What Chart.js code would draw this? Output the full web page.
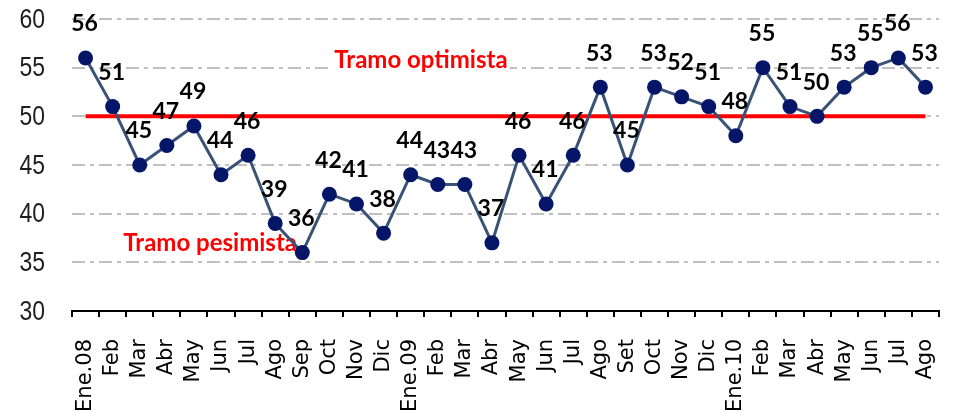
<!DOCTYPE html>
<html>
<head>
<meta charset="utf-8">
<script src="https://cdn.jsdelivr.net/npm/chart.js@4"></script>
<style>
html,body{margin:0;padding:0;background:#fff;}
canvas{display:block;}
</style>
</head>
<body>
<canvas id="c" width="958" height="412"></canvas>
<script>
const categories = ['Ene.08','Feb','Mar','Abr','May','Jun','Jul','Ago','Sep','Oct','Nov','Dic',
  'Ene.09','Feb','Mar','Abr','May','Jun','Jul','Ago','Set','Oct','Nov','Dic',
  'Ene.10','Feb','Mar','Abr','May','Jun','Jul','Ago'];
const values = [56,51,45,47,49,44,46,39,36,42,41,38,
  44,43,43,37,46,41,46,53,45,53,52,51,
  48,55,51,50,53,55,56,53];
const thresholdValue = 50;
const yTicks = [30,35,40,45,50,55,60];
const zoneTexts = [
  {text:'Tramo optimista', x:12.38, y:55.8},
  {text:'Tramo pesimista', x:4.6, y:37.0}
];

const labelPlugin = {
  id:'labels',
  beforeDatasetsDraw(chart){
    const ctx = chart.ctx;
    const xs = chart.scales.x, ys = chart.scales.y;
    ctx.save();
    ctx.textAlign = 'center';
    ctx.textBaseline = 'middle';
    ctx.font = 'bold 24px Lato';
    zoneTexts.forEach(z=>{
      const px = xs.getPixelForValue(z.x), py = ys.getPixelForValue(z.y);
      const w = ctx.measureText(z.text).width;
      ctx.fillStyle = '#fff';
      ctx.fillRect(px - w/2 - 2, py - 11, w + 4, 22);
      ctx.fillStyle = '#ff0000';
      ctx.fillText(z.text, px, py);
    });
    ctx.restore();
  },
  afterDatasetsDraw(chart){
    const ctx = chart.ctx;
    ctx.save();
    ctx.textAlign = 'center';
    ctx.textBaseline = 'middle';
    const meta = chart.getDatasetMeta(0);
    ctx.font = 'bold 23px Lato';
    ctx.fillStyle = '#000';
    meta.data.forEach((el,i)=>{
      ctx.fillText(String(values[i]), el.x - 1, el.y - 34);
    });
    ctx.restore();
  },
  afterDraw(chart){
    const ctx = chart.ctx;
    const ys = chart.scales.y;
    ctx.save();
    ctx.font = '28px "Liberation Sans"';
    ctx.fillStyle = '#1e1e1e';
    ctx.textAlign = 'right';
    ctx.textBaseline = 'middle';
    ys.ticks.forEach(t=>{
      const py = ys.getPixelForValue(t.value);
      ctx.save();
      ctx.translate(45, py + 1);
      ctx.scale(0.82, 1);
      ctx.fillText(String(t.value), 0, 0);
      ctx.restore();
    });
    ctx.restore();
  }
};

new Chart(document.getElementById('c'), {
  type:'line',
  data:{
    labels:categories,
    datasets:[
      {
        data:values,
        borderColor:'#3a5276',
        borderWidth:3,
        pointRadius:7.5,
        pointBackgroundColor:'#051668',
        pointBorderColor:'#051668',
        pointBorderWidth:0,
        tension:0,
        order:0,
        clip:false
      },
      {
        data:categories.map(()=>thresholdValue),
        borderColor:'#ff0000',
        borderWidth:4,
        pointRadius:0,
        tension:0,
        order:1
      }
    ]
  },
  options:{
    responsive:false,
    animation:false,
    devicePixelRatio:1,
    layout:{padding:{top:19,right:19,left:0,bottom:0}},
    plugins:{legend:{display:false},tooltip:{enabled:false}},
    scales:{
      x:{
        offset:true,
        afterFit(s){ s.height = 101; s.paddingLeft = 0; s.paddingRight = 0; s.paddingTop = 0; s.paddingBottom = 0; },
        grid:{display:true,drawOnChartArea:false,drawTicks:true,tickLength:6,color:'#000',lineWidth:2,offset:true},
        border:{display:true,color:'#000',width:2},
        ticks:{
          autoSkip:false,minRotation:90,maxRotation:90,padding:22,
          color:'#000',font:{family:'DejaVu Sans',size:21}
        }
      },
      y:{
        min:30,max:60,
        afterFit(s){ s.width = 72; s.paddingTop = 0; s.paddingBottom = 0; },
        afterBuildTicks(s){ s.ticks = yTicks.map(v=>({value:v})); },
        grid:{color:'#c0c0c0',lineWidth:2,drawTicks:false},
        border:{display:false,dash:[13,5,4,5]},
        ticks:{display:false}
      }
    }
  },
  plugins:[labelPlugin]
});
</script>
</body>
</html>
